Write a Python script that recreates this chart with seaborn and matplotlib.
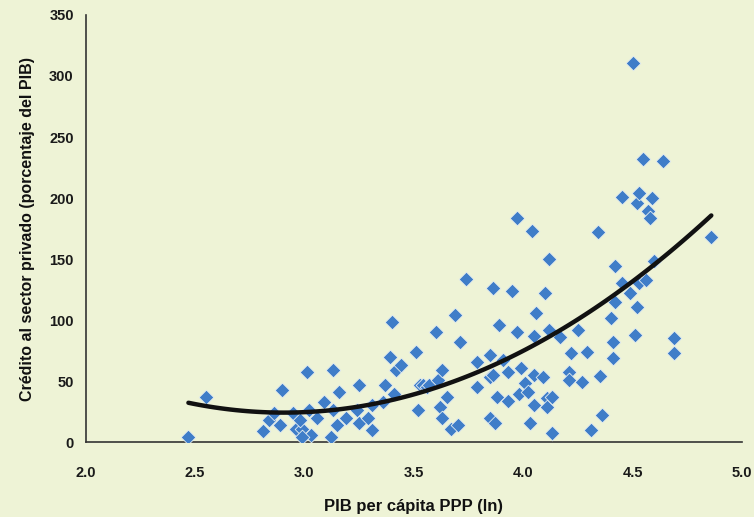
import numpy as np
import pandas as pd
import matplotlib
matplotlib.use('Agg')
import matplotlib.pyplot as plt
import seaborn as sns

# PIB per capita (ln) and private credit (% of GDP)
pib_ln = [2.47, 2.55, 2.81, 2.84, 2.86, 2.89, 2.90, 2.95, 2.96, 2.99,
          3.01, 3.02, 3.03, 3.06, 3.09, 3.12, 3.13, 3.13, 3.15, 3.16,
          3.19, 3.24, 3.25, 3.25, 3.29, 3.31, 3.31, 3.36, 3.37, 3.39,
          3.40, 3.41, 3.42, 3.44, 3.51, 3.52, 3.53, 3.54, 3.56, 3.57,
          3.60, 3.61, 3.62, 3.63, 3.63, 3.65, 3.67, 3.70, 3.69, 3.71,
          3.74, 3.79, 3.79, 3.85, 3.85, 3.86, 3.86, 3.88, 3.85, 3.87,
          3.89, 3.91, 3.93, 3.93, 3.95, 3.97, 3.97, 3.98, 3.99, 4.01,
          4.02, 4.04, 4.05, 4.05, 4.05, 4.03, 4.06, 4.09, 4.10, 4.11,
          4.11, 4.12, 4.12, 4.13, 4.13, 4.17, 4.21, 4.21, 4.22, 4.25,
          4.27, 4.29, 4.31, 4.34, 4.35, 4.36, 4.40, 4.41, 4.41, 4.42,
          4.42, 4.45, 4.45, 4.49, 4.50, 4.51, 4.52, 4.52, 4.53, 4.53,
          4.55, 4.56, 4.57, 4.58, 4.59, 4.60, 4.64, 4.69, 4.69, 4.86,
          2.98, 2.99]
credito = [4, 37, 9, 18, 24, 14, 43, 24, 11, 11,
           57, 26, 6, 20, 33, 4, 59, 26, 14, 41,
           20, 26, 16, 47, 20, 30, 10, 33, 47, 70,
           98, 39, 59, 63, 74, 26, 47, 47, 45, 47,
           90, 51, 29, 20, 59, 37, 11, 14, 104, 82,
           134, 66, 45, 71, 53, 126, 55, 37, 20, 16,
           96, 67, 57, 34, 124, 90, 184, 39, 61, 48,
           41, 173, 87, 55, 30, 16, 106, 53, 122, 36,
           29, 150, 92, 7, 37, 86, 57, 51, 73, 92,
           49, 74, 10, 172, 54, 22, 102, 82, 69, 144,
           115, 201, 130, 122, 311, 88, 196, 111, 204, 130,
           232, 133, 189, 184, 200, 148, 230, 85, 73, 168,
           18, 4]

df = pd.DataFrame({'pib': pib_ln, 'credito': credito})

bg = '#EEF3D6'
sns.set_style('white')
plt.rcParams['font.family'] = ['Liberation Sans', 'DejaVu Sans']

fig = plt.figure(figsize=(7.54, 5.17), dpi=100, facecolor=bg)
ax = fig.add_axes([0.1135, 0.145, 0.8705, 0.826])
ax.set_facecolor(bg)

sns.scatterplot(data=df, x='pib', y='credito', marker='D', s=56,
                color='#3F7DC8', edgecolor='#E4ECEF', linewidth=0.6, ax=ax, zorder=3)
sns.regplot(data=df, x='pib', y='credito', order=2, ci=None, scatter=False,
            truncate=True, line_kws={'color': '#111111', 'linewidth': 3.2, 'zorder': 4}, ax=ax)

ax.set_xlim(2.0, 5.0)
ax.set_ylim(0, 350)
ax.set_xticks(np.arange(2.0, 5.01, 0.5))
ax.set_xticklabels([f'{v:.1f}' for v in np.arange(2.0, 5.01, 0.5)])
ax.set_yticks(range(0, 351, 50))

for s in ['top', 'right']:
    ax.spines[s].set_visible(False)
for s in ['left', 'bottom']:
    ax.spines[s].set_color('#333333')
    ax.spines[s].set_linewidth(1.2)
ax.tick_params(axis='both', direction='out', length=5, width=1.2, color='#333333',
               labelsize=10.5, labelcolor='#1a1a1a')
ax.tick_params(axis='x', pad=12)
for lab in ax.get_xticklabels() + ax.get_yticklabels():
    lab.set_fontweight('bold')

ax.set_xlabel('PIB per cápita PPP (ln)', fontsize=12, fontweight='bold', labelpad=14,
              color='#111111')
ax.set_ylabel('Crédito al sector privado (porcentaje del PIB)', fontsize=11.5,
              fontweight='bold', labelpad=10, color='#111111')

fig.savefig('out.png', dpi=100, facecolor=bg)
